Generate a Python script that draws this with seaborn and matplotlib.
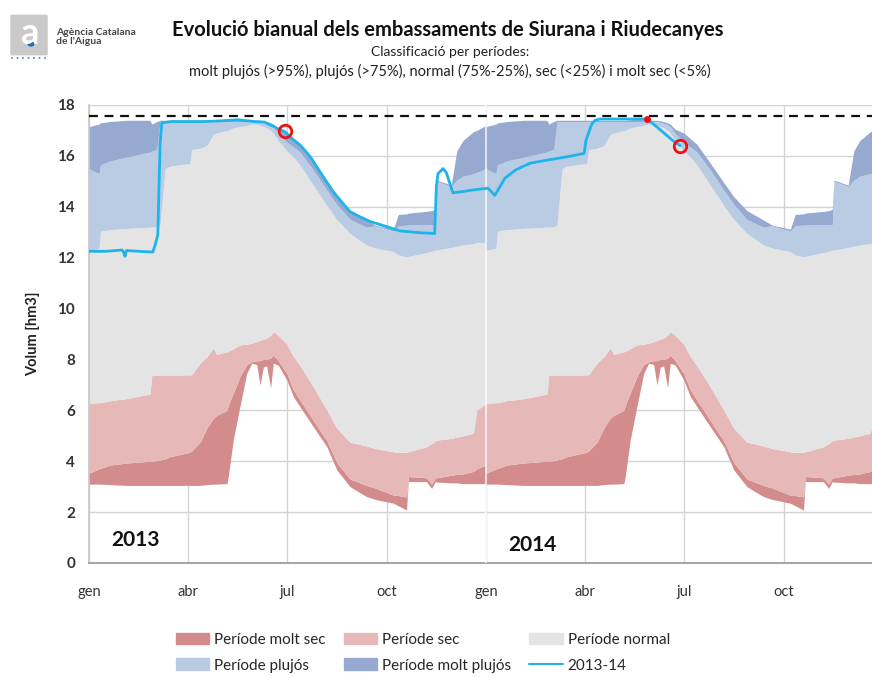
import numpy as np
import pandas as pd
import seaborn as sns
import matplotlib.pyplot as plt
from matplotlib.patches import Patch, FancyBboxPatch, Circle
from matplotlib.lines import Line2D

# climatology bands (same for both years), x in months from 1 Jan
months = [0.00, 0.30, 0.35, 0.63, 1.14, 1.84, 1.90, 2.05, 2.15, 2.30,
          2.45, 3.05, 3.10, 3.36, 3.56, 3.76, 3.86, 4.17, 4.21, 4.36,
          4.56, 4.77, 4.92, 5.07, 5.17, 5.27, 5.37, 5.49, 5.57, 5.72,
          5.98, 6.18, 6.38, 6.78, 7.19, 7.49, 7.89, 8.39, 8.65, 9.20,
          9.35, 9.60, 9.65, 10.20, 10.36, 10.47, 10.52, 10.95, 11.12, 11.30,
          11.62, 11.72, 12.00]
vol_max = [17.15, 17.25, 17.30, 17.35, 17.40, 17.40, 17.25, 17.35, 17.40, 17.40,
           17.40, 17.40, 17.40, 17.40, 17.40, 17.40, 17.40, 17.40, 17.40, 17.42,
           17.45, 17.42, 17.40, 17.40, 17.40, 17.38, 17.35, 17.30, 17.25, 17.05,
           16.90, 16.68, 16.45, 15.72, 14.95, 14.40, 13.85, 13.48, 13.28, 13.12,
           13.70, 13.72, 13.75, 13.82, 13.85, 13.90, 15.05, 14.85, 16.20, 16.60,
           16.95, 17.00, 17.20]
vol_p95 = [15.50, 15.30, 15.65, 15.80, 15.95, 16.15, 16.20, 16.25, 17.35, 17.35,
           17.35, 17.35, 17.35, 17.35, 17.35, 17.35, 17.35, 17.35, 17.35, 17.35,
           17.35, 17.35, 17.35, 17.35, 17.35, 17.32, 17.28, 17.22, 17.15, 16.88,
           16.55, 16.35, 16.15, 15.45, 14.65, 14.10, 13.50, 13.20, 13.25, 13.05,
           13.25, 13.28, 13.28, 13.30, 13.30, 13.30, 15.00, 14.80, 15.05, 15.20,
           15.30, 15.35, 15.50]
vol_p75 = [12.30, 12.35, 13.05, 13.10, 13.15, 13.20, 13.20, 13.20, 13.30, 15.50,
           15.60, 15.70, 16.25, 16.30, 16.40, 16.85, 16.90, 17.00, 17.00, 17.10,
           17.15, 17.20, 17.25, 17.25, 17.20, 17.15, 17.10, 17.00, 16.90, 16.60,
           16.20, 15.95, 15.64, 14.85, 14.05, 13.50, 12.95, 12.50, 12.38, 12.24,
           12.10, 12.04, 12.05, 12.20, 12.25, 12.30, 12.30, 12.40, 12.45, 12.50,
           12.55, 12.60, 12.60]
vol_p25 = [6.28, 6.30, 6.30, 6.38, 6.46, 6.64, 7.39, 7.39, 7.39, 7.39,
           7.39, 7.39, 7.40, 7.86, 8.10, 8.45, 8.20, 8.30, 8.32, 8.42,
           8.57, 8.60, 8.64, 8.70, 8.75, 8.80, 8.84, 8.95, 9.09, 8.95,
           8.60, 8.11, 7.75, 6.93, 6.01, 5.30, 4.75, 4.60, 4.50, 4.37,
           4.35, 4.35, 4.37, 4.57, 4.70, 4.80, 4.83, 4.90, 4.95, 5.00,
           5.10, 6.00, 6.28]
vol_p5 = [3.53, 3.70, 3.72, 3.85, 3.93, 4.00, 4.00, 4.02, 4.05, 4.10,
          4.18, 4.35, 4.40, 4.75, 5.30, 5.69, 5.80, 6.00, 6.20, 6.67,
          7.32, 7.80, 7.91, 7.95, 7.95, 8.00, 8.00, 8.05, 8.17, 7.95,
          7.45, 6.80, 6.40, 5.60, 4.80, 3.95, 3.30, 3.05, 2.95, 2.67,
          2.65, 2.60, 3.40, 3.35, 3.10, 3.35, 3.35, 3.45, 3.48, 3.50,
          3.60, 3.70, 3.85]
vol_min = [3.10, 3.10, 3.10, 3.08, 3.05, 3.05, 3.05, 3.05, 3.05, 3.05,
           3.05, 3.05, 3.05, 3.05, 3.08, 3.10, 3.10, 3.12, 3.40, 4.83,
           6.14, 7.46, 7.85, 7.80, 7.00, 7.70, 7.75, 6.88, 7.85, 7.78,
           7.19, 6.54, 6.14, 5.36, 4.57, 3.66, 3.00, 2.61, 2.50, 2.35,
           2.25, 2.08, 3.20, 3.20, 2.93, 3.20, 3.18, 3.15, 3.15, 3.12,
           3.12, 3.12, 3.12]

# observed volume 2013-14
line_months = [0.00, 0.50, 1.00, 1.05, 1.09, 1.13, 1.50, 1.93, 2.00, 2.08,
               2.15, 2.20, 2.50, 3.00, 3.50, 4.00, 4.50, 5.00, 5.30, 5.60,
               5.77, 5.92, 6.10, 6.38, 6.70, 6.98, 7.20, 7.38, 7.60, 7.89,
               8.20, 8.50, 9.00, 9.40, 10.00, 10.45, 10.50, 10.55, 10.70, 10.80,
               11.00, 11.30, 11.60, 12.06, 12.27, 12.57, 12.90, 13.33, 13.70, 14.15,
               14.60, 14.97, 15.02, 15.10, 15.20, 15.30, 15.45, 16.00, 16.50, 16.87,
               17.20, 17.65, 17.87]
line_vol = [12.25, 12.25, 12.30, 12.20, 12.05, 12.28, 12.25, 12.22, 12.50, 12.90,
            16.50, 17.30, 17.35, 17.35, 17.35, 17.38, 17.42, 17.35, 17.33, 17.15,
            17.02, 16.96, 16.72, 16.43, 15.95, 15.38, 14.95, 14.60, 14.25, 13.81,
            13.60, 13.42, 13.22, 13.05, 12.98, 12.95, 14.80, 15.30, 15.50, 15.35,
            14.55, 14.60, 14.66, 14.73, 14.45, 15.12, 15.45, 15.71, 15.80, 15.90,
            16.00, 16.10, 16.60, 16.90, 17.25, 17.40, 17.45, 17.45, 17.45, 17.45,
            17.10, 16.60, 16.40]

capacity = 17.55
tick_pos = [0, 3, 6, 9, 12, 15, 18, 21]
tick_lab = ["gen", "abr", "jul", "oct", "gen", "abr", "jul", "oct"]

clim = pd.DataFrame({"month": months, "min": vol_min, "p5": vol_p5, "p25": vol_p25,
                     "p75": vol_p75, "p95": vol_p95, "max": vol_max})
bands = pd.concat([clim, clim.assign(month=clim["month"] + 12)], ignore_index=True)
obs = pd.DataFrame({"month": line_months, "vol": line_vol})

sns.set_theme(style="white")
plt.rcParams["font.family"] = ["Lato", "DejaVu Sans"]

c_msec = "#d38b8c"
c_sec = "#e7b8b8"
c_norm = "#e4e4e4"
c_pluj = "#b9cce4"
c_mpluj = "#96a9d0"
c_line = "#1eb4ea"

fig = plt.figure(figsize=(8.72, 6.77), dpi=100)
ax = fig.add_axes([89 / 872, 1 - 563 / 677, 1 - 89 / 872, (563 - 105) / 677])

x = bands["month"]
ax.fill_between(x, bands["min"], bands["p5"], color=c_msec, lw=0, zorder=2)
ax.fill_between(x, bands["p5"], bands["p25"], color=c_sec, lw=0, zorder=2)
ax.fill_between(x, bands["p25"], bands["p75"], color=c_norm, lw=0, zorder=2)
ax.fill_between(x, bands["p75"], bands["p95"], color=c_pluj, lw=0, zorder=2)
ax.fill_between(x, bands["p95"], bands["max"], color=c_mpluj, lw=0, zorder=2)
ax.axvline(12, color="white", lw=1.5, alpha=0.7, zorder=3)

ax.axhline(capacity, color="#111111", lw=1.6, ls=(0, (4, 3)), zorder=4)
sns.lineplot(data=obs, x="month", y="vol", ax=ax, color=c_line, lw=2,
             estimator=None, sort=False, zorder=5)
ax.plot([5.92, 17.87], [16.96, 16.40], "o", ms=9, mfc="none", mec="#ee1111", mew=2, zorder=6)
ax.plot([16.87], [17.45], "o", ms=4, color="#ee1111", zorder=6)

ax.text(1.4, 0.9, "2013", fontsize=15, fontweight="bold", ha="center", va="center", color="#111111")
ax.text(13.4, 0.7, "2014", fontsize=15, fontweight="bold", ha="center", va="center", color="#111111")

ax.set_xlim(0, 23.67)
ax.set_ylim(0, 18)
ax.set_yticks(range(0, 19, 2))
ax.set_xticks(tick_pos)
ax.set_xticklabels(tick_lab)
ax.grid(True, color="#d4d4d4", lw=1)
ax.set_axisbelow(True)
for s in ["top", "right"]:
    ax.spines[s].set_visible(False)
ax.spines["left"].set_color("#c8c8c8")
ax.spines["bottom"].set_color("#9a9a9a")
ax.tick_params(axis="y", length=4, color="#9a9a9a", pad=6, labelsize=11, labelcolor="#333333")
ax.tick_params(axis="x", length=4, color="#9a9a9a", pad=12, labelsize=10.5, labelcolor="#333333")
for t in ax.get_yticklabels():
    t.set_fontweight("bold")
ax.set_xlabel("")
ax.set_ylabel("Volum [hm3]", fontsize=10.5, fontweight="bold", color="#222222", labelpad=12)

# header
fig.text(448 / 872, 1 - 30 / 677, "Evolució bianual dels embassaments de Siurana i Riudecanyes",
         ha="center", va="center", fontsize=14.5, fontweight="bold", color="#111111")
fig.text(450 / 872, 1 - 52 / 677, "Classificació per períodes:",
         ha="center", va="center", fontsize=10, color="#222222")
fig.text(450 / 872, 1 - 71 / 677,
         "molt plujós (>95%), plujós (>75%), normal (75%-25%), sec (<25%) i molt sec (<5%)",
         ha="center", va="center", fontsize=10.5, color="#222222")

# logo
fig.patches.append(FancyBboxPatch((12 / 872, 1 - 54 / 677), 34 / 872, 38 / 677,
                                  boxstyle="round,pad=0.002", transform=fig.transFigure,
                                  fc="#c9c9c9", ec="none"))
fig.text(29 / 872, 1 - 33 / 677, "a", ha="center", va="center", fontsize=26,
         fontweight="bold", color="white")
fig.patches.append(Circle((31 / 872, 1 - 44 / 677), 0.004, transform=fig.transFigure,
                          fc="#1f6fb5", ec="none"))
for i in range(7):
    fig.patches.append(Circle(((12 + i * 5.5) / 872, 1 - 58 / 677), 0.0012,
                              transform=fig.transFigure, fc="#3a7cc0", ec="none"))
fig.text(56 / 872, 1 - 37 / 677, "Agència Catalana\nde l'Aigua", ha="left", va="center",
         fontsize=7.5, fontweight="bold", color="#444444", linespacing=1.0)

# legend
handles = [Patch(color=c_msec), Patch(color=c_pluj), Patch(color=c_sec),
           Patch(color=c_mpluj), Patch(color=c_norm), Line2D([], [], color=c_line, lw=1.5)]
labels = ["Període molt sec", "Període plujós", "Període sec",
          "Període molt plujós", "Període normal", "2013-14"]
fig.legend(handles, labels, ncol=3, loc="upper left", bbox_to_anchor=(162 / 872, 1 - 619 / 677),
           frameon=False, fontsize=11, handlelength=2.2, handleheight=0.8,
           handletextpad=0.3, columnspacing=1.2, labelspacing=0.75)

fig.savefig("out.png", dpi=100)
